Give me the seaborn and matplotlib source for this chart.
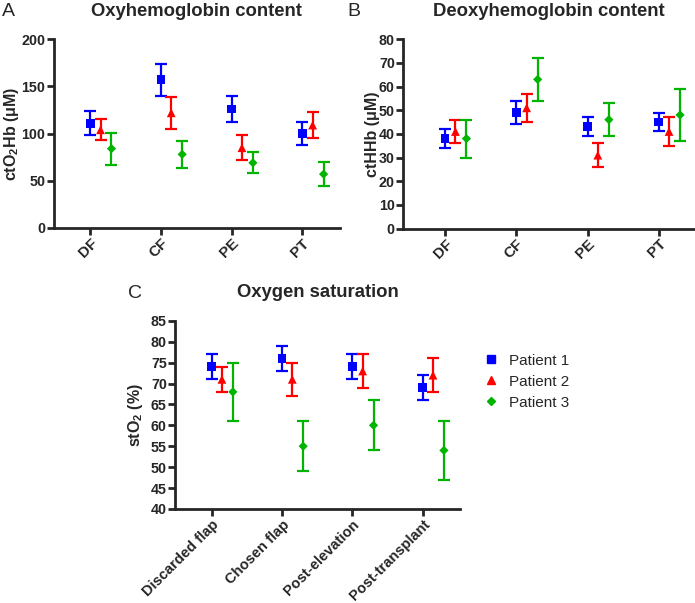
import numpy as np
import pandas as pd
import matplotlib
matplotlib.use("Agg")
import matplotlib.pyplot as plt
import seaborn as sns

# Data (mean and error)
short_labels = ["DF", "CF", "PE", "PT"]
long_labels = ["Discarded flap", "Chosen flap", "Post-elevation", "Post-transplant"]
patients = ["Patient 1", "Patient 2", "Patient 3"]

oxy_mean = {"Patient 1": [111, 157, 126, 100],
            "Patient 2": [104, 122, 85, 109],
            "Patient 3": [84, 78, 69, 57]}
oxy_err = {"Patient 1": [13, 17, 14, 12],
           "Patient 2": [11, 17, 13, 14],
           "Patient 3": [17, 14, 11, 13]}

deoxy_mean = {"Patient 1": [38, 49, 43, 45],
              "Patient 2": [41, 51, 31, 41],
              "Patient 3": [38, 63, 46, 48]}
deoxy_err = {"Patient 1": [4, 5, 4, 4],
             "Patient 2": [5, 6, 5, 6],
             "Patient 3": [8, 9, 7, 11]}

sat_mean = {"Patient 1": [74, 76, 74, 69],
            "Patient 2": [71, 71, 73, 72],
            "Patient 3": [68, 55, 60, 54]}
sat_err = {"Patient 1": [3, 3, 3, 3],
           "Patient 2": [3, 4, 4, 4],
           "Patient 3": [7, 6, 6, 7]}

colors = {"Patient 1": "#0000ff", "Patient 2": "#ff0000", "Patient 3": "#00b400"}
markers = {"Patient 1": "s", "Patient 2": "^", "Patient 3": "D"}
sizes = {"Patient 1": 40, "Patient 2": 40, "Patient 3": 22}
offsets = {"Patient 1": 0.0, "Patient 2": 0.145, "Patient 3": 0.3}

sns.set_style("ticks")
plt.rcParams["font.family"] = ["Liberation Sans", "DejaVu Sans"]
plt.rcParams["mathtext.fontset"] = "custom"
plt.rcParams["mathtext.rm"] = "Liberation Sans"
plt.rcParams["mathtext.bf"] = "Liberation Sans:bold"


def panel(ax, means, errs, labels, ylim, yticks, ylabel, title, letter,
          letter_x, label_x, xfont=11):
    rows = []
    for p in patients:
        for i, lab in enumerate(labels):
            rows.append({"x": i + offsets[p], "y": means[p][i],
                         "err": errs[p][i], "patient": p})
    df = pd.DataFrame(rows)
    for p in patients:
        d = df[df["patient"] == p]
        ax.errorbar(d["x"], d["y"], yerr=d["err"], fmt="none",
                    ecolor=colors[p], elinewidth=1.6, capsize=4, capthick=1.6,
                    zorder=2)
    sns.scatterplot(data=df, x="x", y="y", hue="patient", style="patient",
                    palette=colors, markers=markers, size="patient",
                    sizes=sizes, linewidth=0, ax=ax, zorder=3, legend=False)
    ax.set_xlim(-0.52, 3.53)
    ax.set_ylim(*ylim)
    ax.set_yticks(yticks)
    ax.set_xticks(range(len(labels)))
    ax.set_xticklabels(labels, rotation=45, ha="right", rotation_mode="anchor",
                       fontweight="bold", fontsize=xfont)
    for t in ax.get_yticklabels():
        t.set_fontweight("bold")
        t.set_fontsize(10.3)
    ax.set_xlabel("")
    ax.set_ylabel(ylabel, fontweight="bold", fontsize=11.5)
    ax.yaxis.set_label_coords(label_x, 0.5)
    ax.set_title(title, fontweight="bold", fontsize=13.3, pad=17)
    sns.despine(ax=ax)
    for s in ["left", "bottom"]:
        ax.spines[s].set_linewidth(2)
    ax.tick_params(width=2, length=5, direction="out", pad=1)
    ax.text(letter_x, 1.1, letter, transform=ax.transAxes, fontsize=14,
            ha="left", va="bottom")


fig = plt.figure(figsize=(6.95, 6.03), dpi=100)
axA = fig.add_axes([0.077, 0.622, 0.412, 0.313])
axB = fig.add_axes([0.580, 0.621, 0.419, 0.314])
axC = fig.add_axes([0.252, 0.156, 0.410, 0.312])

panel(axA, oxy_mean, oxy_err, short_labels, (0, 200), [0, 50, 100, 150, 200],
      r"ctO$_\mathbf{2}$Hb (μM)", "Oxyhemoglobin content", "A", -0.18, -0.115)
panel(axB, deoxy_mean, deoxy_err, short_labels, (0, 80), list(range(0, 81, 10)),
      "ctHHb (μM)", "Deoxyhemoglobin content", "B", -0.19, -0.08)
panel(axC, sat_mean, sat_err, long_labels, (40, 85), list(range(40, 86, 5)),
      r"stO$_\mathbf{2}$ (%)", "Oxygen saturation", "C", -0.165, -0.105,
      xfont=10.5)
axB.set_xlim(-0.59, 3.5)

handles = [plt.Line2D([], [], linestyle="none", marker=markers[p],
                      color=colors[p], markersize=6 if p != "Patient 3" else 4.5)
           for p in patients]
fig.legend(handles, patients, loc="upper left", bbox_to_anchor=(0.673, 0.436),
           frameon=False, fontsize=11, handletextpad=0.6, labelspacing=0.45,
           handlelength=1.2)

fig.savefig("out.png", dpi=100)
